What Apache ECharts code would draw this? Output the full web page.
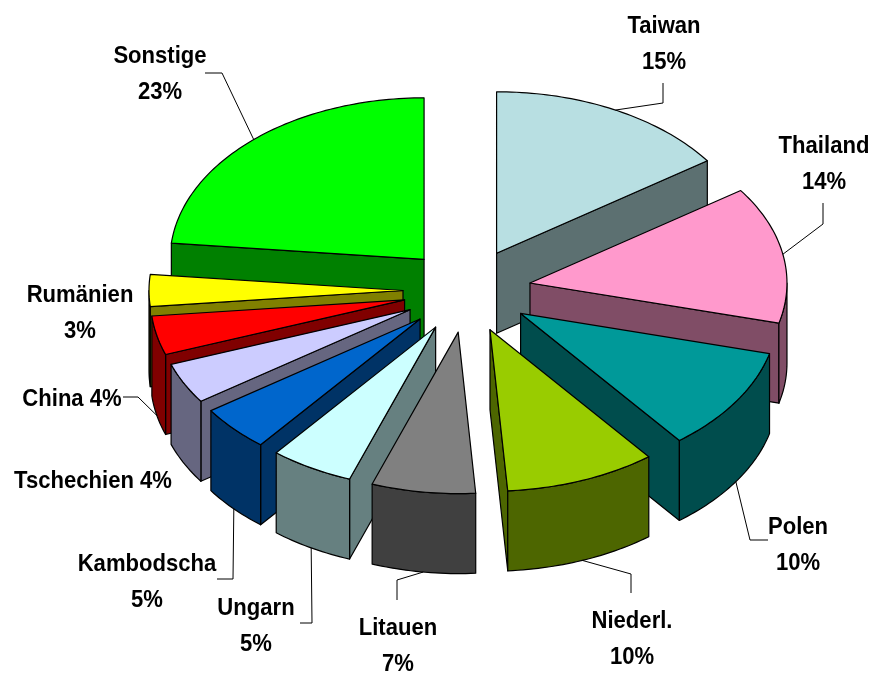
<!DOCTYPE html>
<html>
<head>
<meta charset="utf-8">
<style>html,body{margin:0;padding:0;background:#fff}#c{width:870px;height:674px}</style>
<script src="https://cdn.jsdelivr.net/npm/echarts@6/dist/echarts.min.js"></script>
</head>
<body>
<div id="c"></div>
<script>
// ---- data ----
var categories = ['Taiwan','Thailand','Polen','Niederl.','Litauen','Ungarn','Kambodscha','Tschechien','China','Rumänien','Sonstige'];
var shares = [15.3,13.7,10.4,9.5,6.6,5.3,4.6,4.1,3.9,3.2,23.4];
var topColors = ['#B8DFE2','#FF99CC','#009999','#99CC00','#808080','#CCFFFF','#0066CC','#CCCCFF','#FF0000','#FFFF00','#00FF00'];
var wallColors = ['#5C7071','#804D66','#004D4D','#4D6600','#404040','#668080','#003366','#666680','#800000','#808000','#008000'];
// ---- layout ----
var CX=467, CY=290.5, RX_RIGHT=257, RX_LEFT=254, RY=161.5, EX=64, EY=42, DEPTH=80;
var FONT_SIZE=24, LINE_H=36, SCALE_X=0.92;
var labelLayout = {
  'Taiwan':    {c:[664,44],  elbows:[[663,103],[663,83]]},
  'Thailand':  {c:[824,164], elbows:[[823,224],[823,203]]},
  'Polen':     {c:[798,545], elbows:[[750,540],[768,540]], wall:true},
  'Niederl.':  {c:[632,639], elbows:[[631,574],[631,593]], wall:true},
  'Litauen':   {c:[398,646], elbows:[[397,580],[397,600]], wall:true},
  'Ungarn':    {c:[256,626], elbows:[[312,623],[300,623]], wall:true},
  'Kambodscha':{c:[147,582], elbows:[[233,579],[217,579]], wall:true},
  'Tschechien':{c:[93,481],  single:true},
  'China':     {c:[72,399],  single:true, elbows:[[138,397],[123,397]], wall:true},
  'Rumänien':  {c:[80,313]},
  'Sonstige':  {c:[160,74],  elbows:[[222,73],[205,73]]}
};
var total = shares.reduce(function(a,b){return a+b;},0);
var slices = [], run = 0;
categories.forEach(function(name,i){
  var start = run/total*2*Math.PI; run += shares[i];
  var end = run/total*2*Math.PI, mid=(start+end)/2;
  slices.push({name:name,start:start,end:end,mid:mid,top:topColors[i],wall:wallColors[i],
    rx:Math.sin(mid)>0?RX_RIGHT:RX_LEFT,
    ax:CX+EX*Math.sin(mid), ay:CY-EY*Math.cos(mid)});
});
function rim(s,a){ return [s.ax+s.rx*Math.sin(a), s.ay-RY*Math.cos(a)]; }
function arc(s,a,b){ var p=[],n=Math.max(2,Math.ceil((b-a)/0.02)); for(var k=0;k<=n;k++){p.push(rim(s,a+(b-a)*k/n));} return p; }
var drawOrder = slices.map(function(s,i){return i;}).sort(function(a,b){return Math.cos(slices[b].mid)-Math.cos(slices[a].mid);});
var stroke = {stroke:'#000',lineWidth:1.2,lineJoin:'round'};
function poly(points,fill){ return {type:'polygon',shape:{points:points},style:Object.assign({fill:fill},stroke)}; }
function down(p){ return [p[0],p[1]+DEPTH]; }

function renderSlice(params,api){
  var s = slices[api.value(0)], kids=[], A=[s.ax,s.ay];
  function radial(a){ var R=rim(s,a); kids.push(poly([A,R,down(R),down(A)],s.wall)); }
  if(Math.sin(s.start)<-1e-6) radial(s.start);
  if(Math.sin(s.end)>1e-6) radial(s.end);
  var a=Math.max(s.start,Math.PI/2), b=Math.min(s.end,3*Math.PI/2);
  if(b>a){ var t=arc(s,a,b); kids.push(poly(t.concat(t.slice().reverse().map(down)),s.wall)); }
  kids.push(poly([A].concat(arc(s,s.start,s.end)),s.top));
  return {type:'group',children:kids};
}
function renderLabel(params,api){
  var s = slices[api.value(0)], L = labelLayout[s.name], share = Math.round(api.value(1)), kids=[];
  if(L.elbows){
    var p = rim(s,s.mid); if(L.wall) p = down(p);
    kids.push({type:'polyline',shape:{points:[p].concat(L.elbows)},style:{fill:null,stroke:'#000',lineWidth:1}});
  }
  kids.push({type:'text',x:L.c[0],y:L.c[1],scaleX:SCALE_X,style:{
    text:s.name+(L.single?' ':'\n')+share+'%',align:'center',verticalAlign:'middle',
    fontFamily:'"Liberation Sans",Arial,sans-serif',fontWeight:'bold',fontSize:FONT_SIZE,lineHeight:LINE_H,fill:'#000'}});
  return {type:'group',children:kids};
}
var chart = echarts.init(document.getElementById('c'),null,{renderer:'canvas'});
chart.setOption({
  animation:false,
  backgroundColor:'#fff',
  series:[
    {type:'custom',coordinateSystem:'none',silent:true,renderItem:renderSlice,
     data:drawOrder.map(function(i){return [i,shares[i]];})},
    {type:'custom',coordinateSystem:'none',silent:true,renderItem:renderLabel,
     data:categories.map(function(c,i){return [i,shares[i]];})}
  ]
});
</script>
</body>
</html>
